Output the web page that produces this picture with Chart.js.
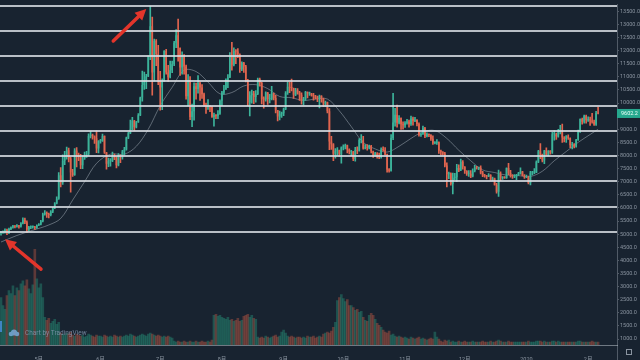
<!DOCTYPE html>
<html>
<head>
<meta charset="utf-8">
<script src="https://cdn.jsdelivr.net/npm/chart.js@4.4.0/dist/chart.umd.min.js"></script>
<style>
  html, body { margin: 0; padding: 0; background: #182330; }
  #wrap { width: 640px; height: 360px; position: relative; }
</style>
</head>
<body>
<div id="wrap"><canvas id="btcChart"></canvas></div>
<script>
/* BTC daily candles, 2019-04-12 .. 2020-02-06 */
const opens = [
  5050, 5070, 5070, 5160, 5040, 5200, 5250, 5300, 5290, 5330, 5290, 5410, 5550, 5450, 5180, 5260, 5270, 5280, 5240,
  5340, 5370, 5490, 5760, 5820, 5770, 5730, 5860, 5990, 6170, 6350, 7250, 6970, 7800, 7990, 8200, 7880, 7350, 7260, 8190, 7990, 7950, 7630, 7880, 7990, 8050, 8740, 8790, 8720, 8660, 8270,
  8550, 8560, 8740, 8110, 7680, 7790, 7800, 8000, 7920, 7630, 8010, 7930, 8150, 8230, 8690, 8850, 8990, 9320, 9080, 9270, 9530, 10210, 10690, 10850, 11020, 11780, 12930, 11160, 12370, 11870,
  10820, 10590, 10830, 11980, 11160, 10980, 11250, 11480, 12300, 12580, 12100, 11350, 11810, 11390, 10260, 10870, 9470, 9690, 10640, 10530, 10760, 10590, 10330, 9910, 9840, 9880, 9850, 9480, 9530, 9510, 9590,
  10090, 10400, 10520, 10820, 10970, 11790, 11460, 11980, 11960, 11850, 11280, 11540, 11390, 10860, 10020, 10300, 10360, 10230, 10340, 10920, 10760, 10140, 10130, 10400, 10140, 10140, 10370, 10190, 9720, 9490, 9590,
  9610, 9760, 10380, 10620, 10580, 10570, 10320, 10490, 10400, 10320, 10100, 10160, 10420, 10360, 10360, 10310, 10260, 10190, 10160, 10270, 10170, 9980, 10030, 9690, 8530, 8430, 8070, 8180, 8200, 8050,
  8300, 8340, 8390, 8230, 8140, 8150, 7870, 8210, 8180, 8590, 8590, 8270, 8300, 8290, 8360, 8160, 8000, 8080, 7960, 7950, 8230, 8210, 8030, 7470, 7420, 8670, 9260, 9550, 9250, 9430, 9190,
  9150, 9250, 9300, 9200, 9410, 9320, 9350, 9200, 8780, 8810, 9040, 8730, 8820, 8780, 8640, 8470, 8490, 8500, 8180, 8120, 8080, 7620, 7280, 7320, 6910, 7150, 7170, 7520, 7430, 7760,
  7570, 7410, 7300, 7300, 7200, 7400, 7540, 7510, 7530, 7340, 7230, 7210, 7200, 7260, 7070, 7120, 6880, 6620, 7280, 7150, 7190, 7140, 7520, 7330, 7240, 7200, 7200, 7250, 7320, 7390, 7230,
  7170, 7180, 6950, 7340, 7350, 7350, 7760, 8160, 8040, 7810, 8190, 8020, 8180, 8110, 8810, 8810, 8720, 8900, 8900, 8690, 8630, 8730, 8660, 8390, 8430, 8340, 8600, 8900, 9390, 9290, 9500,
  9340, 9380, 9330, 9290, 9180, 9620
];
const highs = [
  5110, 5130, 5200, 5190, 5230, 5280, 5340, 5330, 5370, 5340, 5440, 5620, 5610, 5510, 5300, 5320, 5320, 5300, 5360,
  5400, 5530, 5800, 5900, 5850, 5800, 5900, 6020, 6200, 6420, 7350, 7540, 8020, 8160, 8320, 8280, 7940, 7470, 8260, 8300, 8090, 8040, 7990, 8130, 8160, 8830, 8930, 8820, 8750, 8940, 8570,
  8620, 8820, 8750, 8120, 7900, 7880, 8130, 8050, 7960, 8070, 8020, 8200, 8310, 8700, 8880, 9350, 9450, 9340, 9300, 9600, 10230, 11220, 11180, 11090, 11800, 13700, 13280, 12440, 12420, 12200,
  11210, 10920, 12000, 12050, 11440, 11600, 11600, 12350, 12800, 13200, 12100, 11950, 11850, 11450, 11080, 11010, 9960, 10770, 10760, 11050, 10800, 10700, 10380, 10000, 10130, 9900, 9870, 9620, 9560, 9710, 10120,
  10450, 10670, 10920, 11080, 11920, 12310, 12100, 12040, 12080, 11880, 11570, 11550, 11440, 10900, 10440, 10490, 10450, 10470, 10950, 10950, 10790, 10240, 10430, 10410, 10330, 10640, 10380, 10290, 9720, 9690, 9650,
  9810, 10440, 10800, 10790, 10910, 10570, 10560, 10550, 10450, 10390, 10220, 10450, 10430, 10420, 10370, 10370, 10290, 10260, 10300, 10280, 10190, 10070, 10040, 9790, 8730, 8450, 8260, 8300, 8210, 8330,
  8410, 8430, 8400, 8250, 8200, 8160, 8310, 8330, 8640, 8800, 8730, 8420, 8420, 8400, 8390, 8170, 8120, 8110, 8090, 8290, 8330, 8300, 8050, 7500, 8800, 10370, 9800, 9920, 9520, 9440, 9280,
  9290, 9380, 9350, 9500, 9460, 9450, 9370, 9240, 8860, 9120, 9070, 8860, 8830, 8800, 8750, 8530, 8610, 8520, 8210, 8150, 8120, 7720, 7370, 7340, 7330, 7320, 7660, 7640, 7860, 7810,
  7580, 7420, 7420, 7420, 7490, 7620, 7590, 7560, 7610, 7400, 7280, 7240, 7310, 7270, 7180, 7140, 6940, 7440, 7380, 7200, 7200, 7530, 7700, 7430, 7270, 7270, 7280, 7360, 7530, 7400, 7270,
  7250, 7210, 7400, 7400, 7500, 7800, 8200, 8450, 8050, 8200, 8290, 8190, 8190, 8880, 8950, 8850, 9000, 9150, 9200, 8720, 8760, 8790, 8670, 8500, 8450, 8620, 8970, 9400, 9430, 9540, 9540,
  9470, 9460, 9610, 9350, 9680, 9850
];
const lows = [
  4960, 5030, 5040, 4980, 5020, 5170, 5230, 5240, 5270, 5230, 5270, 5390, 5400, 5060, 5120, 5210, 5230, 5180, 5220,
  5320, 5350, 5470, 5720, 5640, 5620, 5700, 5820, 5970, 6150, 6320, 6800, 6900, 7650, 7860, 7750, 6600, 7200, 7240, 7560, 7800, 7500, 7500, 7850, 7930, 8000, 8670, 8620, 8460, 8110, 8100,
  8470, 8540, 8080, 7480, 7570, 7590, 7760, 7840, 7530, 7600, 7730, 7860, 8010, 8200, 8640, 8830, 8980, 8960, 9050, 9260, 9520, 10070, 10520, 10550, 11000, 11650, 10300, 10840, 11420, 10700,
  9730, 9750, 10830, 11100, 10820, 10960, 11160, 11420, 12110, 11600, 11050, 11100, 11100, 10150, 9900, 9370, 9100, 9350, 10150, 10380, 10100, 10180, 9880, 9600, 9760, 9670, 9450, 9120, 9400, 9400, 9570,
  9900, 10340, 10520, 10590, 10970, 11250, 11410, 11500, 11730, 11170, 11230, 11170, 10800, 9900, 9510, 9990, 9980, 10030, 10320, 10640, 9970, 9800, 10070, 9950, 10000, 10120, 10120, 9620, 9320, 9360, 9450,
  9520, 9750, 10330, 10390, 10460, 10180, 10280, 10340, 10100, 9960, 9930, 10100, 10190, 10290, 10260, 10110, 10160, 10050, 9810, 10030, 9860, 9860, 9620, 8220, 8230, 7800, 7900, 8010, 7960, 7710,
  8210, 8250, 8100, 8060, 7990, 7800, 7780, 8070, 8160, 8480, 8240, 8250, 8200, 8250, 8100, 7930, 7970, 7900, 7880, 7900, 8160, 8020, 7360, 7360, 7400, 8600, 9120, 9080, 9200, 8990, 9000,
  9070, 9190, 9080, 9150, 9160, 9290, 9130, 8740, 8730, 8800, 8680, 8710, 8720, 8570, 8420, 8440, 8420, 8080, 8020, 8020, 7560, 6800, 7120, 6870, 6530, 7080, 7000, 7380, 7420, 7480,
  7320, 7240, 7200, 7150, 7180, 7370, 7480, 7460, 7300, 7190, 7170, 7110, 7190, 7050, 7040, 6870, 6560, 6440, 7040, 7090, 7130, 7130, 7270, 7170, 7130, 7150, 7080, 7230, 7290, 7220, 7130,
  7150, 6920, 6880, 7260, 7310, 7340, 7730, 7880, 7750, 7690, 8000, 7980, 8050, 8080, 8580, 8610, 8700, 8820, 8500, 8520, 8500, 8610, 8300, 8250, 8290, 8320, 8570, 8880, 9190, 9230, 9230,
  9300, 9150, 9230, 9150, 9150, 9580
];
const closes = [
  5070, 5070, 5160, 5040, 5200, 5250, 5300, 5290, 5330, 5290, 5410, 5550, 5450, 5180, 5260, 5270, 5280, 5240, 5340,
  5370, 5490, 5760, 5820, 5770, 5730, 5860, 5990, 6170, 6350, 7250, 6970, 7800, 7990, 8200, 7880, 7350, 7260, 8190, 7990, 7950, 7630, 7880, 7990, 8050, 8740, 8790, 8720, 8660, 8270, 8550,
  8560, 8740, 8110, 7680, 7790, 7800, 8000, 7920, 7630, 8010, 7930, 8150, 8230, 8690, 8850, 8990, 9320, 9080, 9270, 9530, 10210, 10690, 10850, 11020, 11780, 12930, 11160, 12370, 11870, 10820,
  10590, 10830, 11980, 11160, 10980, 11250, 11480, 12300, 12580, 12100, 11350, 11810, 11390, 10260, 10870, 9470, 9690, 10640, 10530, 10760, 10590, 10330, 9910, 9840, 9880, 9850, 9480, 9530, 9510, 9590, 10090,
  10400, 10520, 10820, 10970, 11790, 11460, 11980, 11960, 11850, 11280, 11540, 11390, 10860, 10020, 10300, 10360, 10230, 10340, 10920, 10760, 10140, 10130, 10400, 10140, 10140, 10370, 10190, 9720, 9490, 9590, 9610,
  9760, 10380, 10620, 10580, 10570, 10320, 10490, 10400, 10320, 10100, 10160, 10420, 10360, 10360, 10310, 10260, 10190, 10160, 10270, 10170, 9980, 10030, 9690, 8530, 8430, 8070, 8180, 8200, 8050, 8300,
  8340, 8390, 8230, 8140, 8150, 7870, 8210, 8180, 8590, 8590, 8270, 8300, 8290, 8360, 8160, 8000, 8080, 7960, 7950, 8230, 8210, 8030, 7470, 7420, 8670, 9260, 9550, 9250, 9430, 9190, 9150,
  9250, 9300, 9200, 9410, 9320, 9350, 9200, 8780, 8810, 9040, 8730, 8820, 8780, 8640, 8470, 8490, 8500, 8180, 8120, 8080, 7620, 7280, 7320, 6910, 7150, 7170, 7520, 7430, 7760, 7570,
  7410, 7300, 7300, 7200, 7400, 7540, 7510, 7530, 7340, 7230, 7210, 7200, 7260, 7070, 7120, 6880, 6620, 7280, 7150, 7190, 7140, 7520, 7330, 7240, 7200, 7200, 7250, 7320, 7390, 7230, 7170,
  7180, 6950, 7340, 7350, 7350, 7760, 8160, 8040, 7810, 8190, 8020, 8180, 8110, 8810, 8810, 8720, 8900, 8900, 8690, 8630, 8730, 8660, 8390, 8430, 8340, 8600, 8900, 9390, 9290, 9500, 9340,
  9380, 9330, 9290, 9180, 9620, 9602.2
];
const volumes = [
  48, 40, 36, 50, 55, 52, 60, 50, 58, 55, 62, 65, 60, 66, 57, 52, 61, 97, 67, 58, 62, 48,
  28, 25, 27, 22, 24, 26, 21, 23,
  12, 11, 10, 12, 11, 13, 10, 9, 11, 10, 9, 10, 8, 9, 11, 10, 9, 8, 10, 9,
  9, 8, 10, 9, 8, 9, 8, 10, 9, 8, 9, 8, 9, 10, 9, 11, 10, 9, 8, 9,
  10, 11, 10, 9, 11, 12, 11, 10, 9, 10, 9, 8, 9, 8, 9, 8, 7,
  4, 3, 4, 3, 3, 4, 3, 3, 4, 3, 3, 4, 3, 3, 4, 3, 3, 4, 3, 5,
  30, 31, 29, 30, 28, 27, 26, 28, 25, 26, 24, 25, 27, 24, 25, 29, 30, 31, 28, 30, 27, 26,
  8, 7, 8, 7, 9, 8, 7, 8, 9, 10, 8,
  9, 13, 15, 12, 9, 8, 9, 8, 7, 8,
  8, 7, 8, 7, 9, 8, 8, 9, 7, 8, 9, 8,
  11, 12, 13, 12, 14, 18, 23,
  45, 48, 51, 47, 44, 46, 40,
  40, 38, 35, 36, 33, 34, 28, 25, 24, 30, 32, 30, 26, 22, 20,
  18, 15, 13, 12, 14, 10, 11, 9, 8, 9, 8,
  7, 8, 7, 6, 8, 7, 6, 7, 8, 6, 7, 6, 5, 6, 7, 6, 13, 8, 6,
  4, 3, 5, 4, 5, 3, 4, 3, 3, 4, 3, 3, 4, 3, 3, 3, 4, 3, 3, 3,
  3, 4, 3, 3, 3, 4, 3, 3, 4, 5, 4, 3, 3, 3, 4, 3, 3, 3, 3, 3,
  3, 3, 3, 3, 4, 3, 3, 3, 4, 4, 4, 3, 4, 3, 3, 3, 4, 4, 3, 4,
  3, 3, 3, 3, 3, 3, 3, 3, 3, 4, 4, 3, 3, 3, 3, 3, 4, 3, 3, 3
];

// thin moving-average line, read at sparse days (index from the first candle)
const maDays = [0, 8, 16, 24, 30, 36, 42, 48, 55, 62, 68, 74, 80, 86, 92, 98, 104, 110, 116, 122, 128, 134, 140, 146, 152, 158, 164, 170, 176, 182, 188, 194, 200, 206, 212, 218, 224, 230, 236, 242, 248, 254, 260, 266, 272, 278, 284, 290, 296, 300];
const maValues = [4700, 4950, 5150, 5350, 5600, 6300, 7000, 7700, 8050, 8050, 8350, 9000, 9900, 10600, 11250, 11200, 10800, 10350, 10400, 10650, 10700, 10550, 10250, 10200, 10100, 10150, 10150, 9700, 9100, 8500, 8250, 8130, 8350, 8650, 8900, 8950, 8650, 8200, 7800, 7450, 7350, 7250, 7230, 7200, 7400, 7800, 8150, 8500, 8800, 9000];

// horizontal lines drawn across the chart
const priceLevels = [13690, 12750, 11810, 10830, 9890, 8945, 7965, 7010, 6045, 5100];

const priceTicks = [1000, 1500, 2000, 2500, 3000, 3500, 4000, 4500, 5000, 5500, 6000, 6500, 7000, 7500, 8000, 8500, 9000, 9500, 10000, 10500, 11000, 11500, 12000, 12500, 13000, 13500];
const monthTickDates = ['2019-05-01', '2019-06-01', '2019-07-01', '2019-08-01', '2019-09-01', '2019-10-01', '2019-11-01', '2019-12-01', '2020-01-01', '2020-02-01'];
const monthTickLabels = ['5月', '6月', '7月', '8月', '9月', '10月', '11月', '12月', '2020', '2月'];

const slotCount = 310;
const days = [];
for (let i = 0; i < slotCount; i++) {
  const d = new Date(2019, 3, 12 + i);
  days.push(d.getFullYear() + '-' + String(d.getMonth() + 1).padStart(2, '0') + '-' + String(d.getDate()).padStart(2, '0'));
}

const UP = '#3cb39a', DOWN = '#e0654f';
const isUp = i => closes[i] >= opens[i];
const candleColor = c => isUp(c.dataIndex) ? UP : DOWN;
const volColor = c => isUp(c.dataIndex) ? 'rgba(38,140,118,0.45)' : 'rgba(190,88,70,0.42)';
const FONT = "Roboto, 'Noto Sans CJK SC', sans-serif";
const AXIS_TXT = '#8a94a0';

function arrow(ctx, x0, y0, x1, y1) {
  const ang = Math.atan2(y1 - y0, x1 - x0), head = 11, half = 5.5;
  const bx = x1 - head * Math.cos(ang), by = y1 - head * Math.sin(ang);
  ctx.strokeStyle = ctx.fillStyle = '#e3352b';
  ctx.lineWidth = 3.5;
  ctx.lineCap = 'round';
  ctx.beginPath(); ctx.moveTo(x0, y0); ctx.lineTo(bx, by); ctx.stroke();
  ctx.beginPath();
  ctx.moveTo(x1, y1);
  ctx.lineTo(bx - half * Math.sin(ang), by + half * Math.cos(ang));
  ctx.lineTo(bx + half * Math.sin(ang), by - half * Math.cos(ang));
  ctx.closePath(); ctx.fill();
}

const overlay = {
  id: 'overlay',
  beforeDraw(chart) {
    const { ctx, width, height } = chart;
    ctx.save();
    ctx.fillStyle = '#182330';
    ctx.fillRect(0, 0, width, height);
    ctx.restore();
  },
  afterDatasetsDraw(chart) {
    const { ctx, chartArea: a, scales: { x, y } } = chart;
    ctx.save();
    ctx.strokeStyle = 'rgba(214,219,224,0.85)';
    ctx.lineWidth = 2;
    priceLevels.forEach(p => {
      const py = Math.round(y.getPixelForValue(p));
      ctx.beginPath(); ctx.moveTo(a.left, py); ctx.lineTo(a.right, py); ctx.stroke();
    });
    const pk = highs.indexOf(Math.max(...highs));
    const t1x = x.getPixelForValue(pk) - 4, t1y = y.getPixelForValue(highs[pk]) + 3;
    arrow(ctx, t1x - 33, t1y + 32, t1x, t1y);
    const t2x = x.getPixelForValue(0) + 4, t2y = y.getPixelForValue(lows[0]) + 4;
    arrow(ctx, t2x + 36, t2y + 30, t2x, t2y);
    ctx.restore();
  },
  afterDraw(chart) {
    const { ctx, chartArea: a, scales: { y } } = chart;
    ctx.save();
    // last price tag
    const last = closes[closes.length - 1];
    const ly = y.getPixelForValue(last);
    ctx.fillStyle = '#26a88e';
    ctx.fillRect(a.right, ly - 4.5, chart.width - a.right, 9);
    ctx.fillStyle = '#eafff8';
    ctx.font = '5.5px ' + FONT;
    ctx.textBaseline = 'middle';
    ctx.fillText(last.toFixed(1), a.right + 4, ly + 0.5);
    // axis divider continues below
    ctx.strokeStyle = 'rgba(150,160,170,0.45)';
    ctx.lineWidth = 1;
    ctx.beginPath(); ctx.moveTo(a.right + 0.5, a.bottom); ctx.lineTo(a.right + 0.5, chart.height); ctx.stroke();
    // settings icon
    ctx.strokeStyle = AXIS_TXT;
    ctx.strokeRect(626.5, 349.5, 5, 5);
    // watermark
    ctx.fillStyle = 'rgba(70,140,215,0.85)';
    ctx.fillRect(0, 321, 2, 11);
    ctx.fillStyle = 'rgba(125,175,225,0.8)';
    ctx.beginPath();
    ctx.arc(11, 334, 2.3, 0, Math.PI * 2);
    ctx.arc(14, 332.5, 3, 0, Math.PI * 2);
    ctx.arc(17, 334, 2.3, 0, Math.PI * 2);
    ctx.fill();
    ctx.fillStyle = 'rgba(135,155,180,0.8)';
    ctx.font = '6.5px ' + FONT;
    ctx.fillText('Chart by TradingView', 25, 333);
    ctx.restore();
  }
};

new Chart(document.getElementById('btcChart'), {
  data: {
    labels: days,
    datasets: [
      {
        type: 'bar', label: 'Body', order: 0, grouped: false,
        data: opens.map((o, i) => [o, closes[i]]),
        backgroundColor: candleColor, borderWidth: 0, minBarLength: 1,
        barPercentage: 0.8, categoryPercentage: 1
      },
      {
        type: 'bar', label: 'Wick', order: 1, grouped: false,
        data: lows.map((l, i) => [l, highs[i]]),
        backgroundColor: candleColor, borderWidth: 0, barThickness: 1
      },
      {
        type: 'line', label: 'MA', order: 2,
        data: maDays.map((d, k) => ({ x: days[d], y: maValues[k] })),
        borderColor: 'rgba(185,195,205,0.45)', borderWidth: 1, pointRadius: 0, tension: 0.35
      },
      {
        type: 'bar', label: 'Volume', order: 3, grouped: false, yAxisID: 'yv',
        data: volumes,
        backgroundColor: volColor, borderWidth: 0,
        barPercentage: 1, categoryPercentage: 1
      }
    ]
  },
  options: {
    responsive: true,
    maintainAspectRatio: false,
    animation: false,
    devicePixelRatio: 1,
    events: [],
    layout: { padding: 0 },
    plugins: { legend: { display: false }, tooltip: { enabled: false } },
    scales: {
      x: {
        type: 'category', offset: true,
        grid: { display: false },
        border: { display: true, color: 'rgba(170,178,186,0.6)' },
        ticks: {
          autoSkip: false, maxRotation: 0, padding: 3, color: AXIS_TXT,
          font: { family: FONT, size: 5.5 },
          callback: (v, i) => {
            const k = monthTickDates.indexOf(days[i]);
            return k < 0 ? null : monthTickLabels[k];
          }
        },
        afterFit: s => { s.height = 15; }
      },
      y: {
        position: 'right', min: 774, max: 13764,
        grid: { display: true, drawOnChartArea: false, tickLength: 2, color: 'rgba(150,160,170,0.45)' },
        border: { display: true, color: 'rgba(150,160,170,0.45)' },
        ticks: {
          padding: 1, color: AXIS_TXT,
          font: { family: FONT, size: 5.5 },
          callback: v => v.toFixed(1)
        },
        afterBuildTicks: s => { s.ticks = priceTicks.map(v => ({ value: v })); },
        afterFit: s => { s.width = 23; }
      },
      yv: { display: false, min: 0, max: 345 }
    }
  },
  plugins: [overlay]
});
</script>
</body>
</html>
